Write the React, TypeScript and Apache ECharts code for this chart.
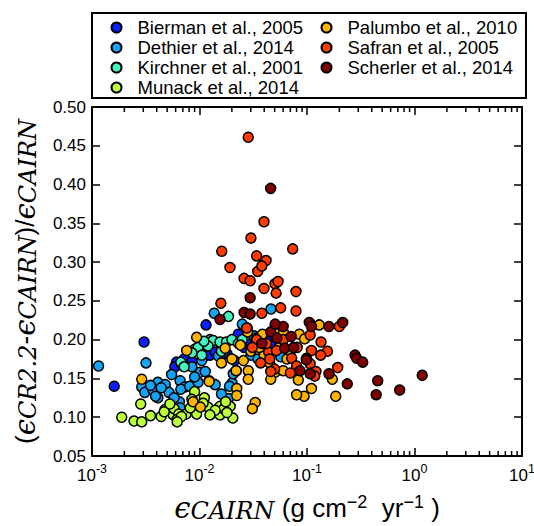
import React, { useEffect, useRef } from "react";
import * as echarts from "echarts";

const seriesNames = [
  "Bierman et al., 2005",
  "Dethier et al., 2014",
  "Kirchner et al., 2001",
  "Munack et al., 2014",
  "Palumbo et al., 2010",
  "Safran et al., 2005",
  "Scherler et al., 2014",
];
const seriesColors = ["#0a1eff", "#14a4f4", "#44f4c0", "#bcff3c", "#ffb400", "#ff3c00", "#800000"];

const bierman = [
  [0.00161, 0.14], [0.00305, 0.197], [0.0061, 0.171], [0.0059, 0.165], [0.0072, 0.175], [0.0108, 0.177],
  [0.0115, 0.186], [0.0115, 0.219], [0.0125, 0.18], [0.014, 0.184], [0.016, 0.19], [0.0212, 0.173],
  [0.0229, 0.207], [0.026, 0.19], [0.03, 0.195], [0.033, 0.2], [0.035, 0.192], [0.04, 0.186],
  [0.045, 0.205], [0.05, 0.195], [0.055, 0.185], [0.06, 0.19], [0.018, 0.182], [0.0085, 0.172], [0.0068, 0.168],
];
const dethier = [
  [0.00115, 0.166], [0.00318, 0.17], [0.0029, 0.139], [0.0031, 0.132], [0.0037, 0.135], [0.0041, 0.145],
  [0.0035, 0.141], [0.0048, 0.142], [0.0052, 0.132], [0.0041, 0.125], [0.0044, 0.138], [0.0066, 0.147],
  [0.0073, 0.139], [0.0067, 0.136], [0.0081, 0.14], [0.0097, 0.145], [0.0101, 0.158], [0.0113, 0.159],
  [0.0123, 0.147], [0.014, 0.142], [0.0065, 0.12], [0.0066, 0.112], [0.0105, 0.173], [0.0186, 0.124],
  [0.0201, 0.144], [0.0206, 0.156], [0.0137, 0.234], [0.0278, 0.215], [0.0462, 0.2395], [0.057, 0.178],
  [0.015, 0.179], [0.0055, 0.155], [0.0058, 0.125], [0.0085, 0.165], [0.009, 0.152], [0.0125, 0.2],
  [0.017, 0.185], [0.022, 0.16], [0.025, 0.22], [0.032, 0.205], [0.03, 0.18], [0.035, 0.175],
  [0.0039, 0.127], [0.016, 0.13], [0.019, 0.14],
];
const kirchner = [
  [0.0067, 0.171], [0.0091, 0.188], [0.0097, 0.19], [0.0134, 0.199], [0.0155, 0.197], [0.0178, 0.197],
  [0.0186, 0.23], [0.012, 0.192], [0.0105, 0.18], [0.0072, 0.165], [0.02, 0.2], [0.023, 0.195],
  [0.016, 0.185], [0.0085, 0.183], [0.025, 0.2], [0.011, 0.198],
];
const munack = [
  [0.00189, 0.1], [0.00246, 0.095], [0.0029, 0.094], [0.0035, 0.102], [0.0044, 0.101], [0.0048, 0.11],
  [0.0057, 0.103], [0.0058, 0.111], [0.0064, 0.104], [0.0062, 0.097], [0.0075, 0.104], [0.0094, 0.104],
  [0.009, 0.133], [0.0085, 0.123], [0.0111, 0.125], [0.0135, 0.107], [0.0155, 0.114], [0.0155, 0.103],
  [0.0169, 0.111], [0.0204, 0.099], [0.0193, 0.114], [0.00284, 0.117], [0.0047, 0.107], [0.0053, 0.117],
  [0.0068, 0.101], [0.0082, 0.112], [0.012, 0.113], [0.014, 0.109], [0.018, 0.106], [0.0175, 0.12],
  [0.0062, 0.094], [0.0108, 0.118], [0.0125, 0.103],
];
const palumbo = [
  [0.0029, 0.149], [0.0094, 0.203], [0.0076, 0.186], [0.0123, 0.146], [0.0087, 0.12], [0.0102, 0.113],
  [0.0219, 0.16], [0.0284, 0.16], [0.0284, 0.149], [0.0222, 0.137], [0.0222, 0.128], [0.033, 0.119],
  [0.0173, 0.189], [0.0256, 0.173], [0.024, 0.193], [0.034, 0.202], [0.0385, 0.207], [0.13, 0.219],
  [0.05, 0.209], [0.0605, 0.209], [0.085, 0.207], [0.095, 0.201], [0.172, 0.149], [0.0505, 0.158],
  [0.046, 0.149], [0.083, 0.148], [0.11, 0.137], [0.094, 0.127], [0.08, 0.129], [0.185, 0.127],
  [0.031, 0.111], [0.03, 0.185], [0.04, 0.18], [0.045, 0.17], [0.055, 0.19], [0.065, 0.175],
  [0.028, 0.21], [0.036, 0.19], [0.02, 0.175], [0.06, 0.16], [0.07, 0.185], [0.016, 0.17],
];
const safran = [
  [0.0284, 0.461], [0.0398, 0.352], [0.0301, 0.331], [0.0161, 0.314], [0.0736, 0.317], [0.0192, 0.293],
  [0.034, 0.308], [0.0416, 0.302], [0.0348, 0.288], [0.038, 0.295], [0.026, 0.279], [0.0296, 0.276],
  [0.0398, 0.266], [0.0504, 0.272], [0.0538, 0.275], [0.0516, 0.26], [0.079, 0.262], [0.0158, 0.247],
  [0.0569, 0.241], [0.079, 0.237], [0.038, 0.234], [0.2, 0.217], [0.107, 0.206], [0.135, 0.197],
  [0.081, 0.19], [0.044, 0.184], [0.052, 0.186], [0.11, 0.186], [0.155, 0.185], [0.134, 0.18],
  [0.072, 0.176], [0.08, 0.166], [0.107, 0.169], [0.109, 0.157], [0.121, 0.159], [0.118, 0.153],
  [0.193, 0.164], [0.05, 0.162], [0.07, 0.157], [0.046, 0.159], [0.0275, 0.215], [0.034, 0.2],
  [0.042, 0.195], [0.045, 0.175], [0.06, 0.2], [0.031, 0.19], [0.037, 0.17],
];
const scherler = [
  [0.0459, 0.395], [0.0296, 0.254], [0.026, 0.235], [0.0296, 0.233], [0.0155, 0.226], [0.105, 0.222],
  [0.11, 0.217], [0.16, 0.217], [0.215, 0.222], [0.046, 0.21], [0.06, 0.217], [0.0711, 0.204],
  [0.062, 0.189], [0.099, 0.176], [0.28, 0.18], [0.29, 0.176], [0.33, 0.171], [0.086, 0.16],
  [0.107, 0.156], [0.16, 0.156], [0.237, 0.143], [0.455, 0.147], [0.44, 0.129], [0.728, 0.135],
  [1.18, 0.154], [0.0505, 0.22], [0.0525, 0.202], [0.038, 0.195], [0.075, 0.19], [0.0985, 0.174],
];
const allSeries = [bierman, dethier, kirchner, munack, palumbo, safran, scherler];

const minorTickValues = [
  0.002, 0.003, 0.004, 0.005, 0.006, 0.007, 0.008, 0.009,
  0.02, 0.03, 0.04, 0.05, 0.06, 0.07, 0.08, 0.09,
  0.2, 0.3, 0.4, 0.5, 0.6, 0.7, 0.8, 0.9,
  2, 3, 4, 5, 6, 7, 8, 9,
];

const SANS = "'Liberation Sans', Arial, sans-serif";
const SERIF = "'DejaVu Serif', serif";

const mkLine = () => ({ show: true, onZero: false, lineStyle: { color: "#000000", width: 2, opacity: 1 } });
const mkTick = () => ({ show: true, inside: true, length: 8, lineStyle: { color: "#000000", width: 1.5, opacity: 1 } });

export default function App() {
  const ref = useRef<HTMLDivElement>(null);
  useEffect(() => {
    const chart = echarts.init(ref.current!, null, { renderer: "svg" });
    const nameRich = {
      p: { fontFamily: SANS, fontSize: 26, color: "#000", lineHeight: 30 },
      e: { fontFamily: SERIF, fontStyle: "italic", fontSize: 29, color: "#000", lineHeight: 30 },
      s: { fontFamily: SERIF, fontStyle: "italic", fontSize: 24, color: "#000", lineHeight: 18, verticalAlign: "bottom" },
      u: { fontFamily: SANS, fontSize: 18, color: "#000", lineHeight: 14, verticalAlign: "top" },
    };
    const legendBase = {
      orient: "vertical",
      icon: "circle",
      itemWidth: 10,
      itemHeight: 10,
      itemGap: 1,
      padding: 0,
      selectedMode: false,
      textStyle: { fontFamily: SANS, fontSize: 18.5, color: "#000", lineHeight: 18, padding: [0, 0, 0, 11] },
    };
    chart.setOption({
      animation: false,
      backgroundColor: "#fff",
      grid: { left: 92, right: 12, top: 107, bottom: 70, containLabel: false, outerBoundsMode: "none" },
      graphic: [
        {
          type: "rect",
          shape: { x: 92, y: 13, width: 434, height: 85 },
          style: { fill: "none", stroke: "#000", lineWidth: 2 },
          z: 10,
        },
      ],
      legend: [
        { ...legendBase, data: seriesNames.slice(0, 4), left: 110.5, top: 18 },
        { ...legendBase, data: seriesNames.slice(4), left: 320.5, top: 18 },
      ],
      xAxis: [
        {
          type: "log",
          logBase: 10,
          min: 0.001,
          max: 10,
          position: "bottom",
          axisLine: mkLine(),
          axisTick: mkTick(),
          splitLine: { show: false },
          axisLabel: {
            margin: 6,
            formatter: (v: number) => `{b|10}{s|${Math.round(Math.log10(v))}}`,
            rich: {
              b: { fontFamily: SANS, fontSize: 17, color: "#000", lineHeight: 22, verticalAlign: "bottom" },
              s: { fontFamily: SANS, fontSize: 12.5, color: "#000", lineHeight: 14, verticalAlign: "top" },
            },
          },
          name: "{e|ϵ}{s|CAIRN}{p| (g cm}{u|−2}{p|  yr}{u|−1}{p| )}",
          nameLocation: "middle",
          nameGap: 37,
          nameTextStyle: { rich: nameRich },
        },
        {
          type: "log",
          logBase: 10,
          min: 0.001,
          max: 10,
          position: "top",
          axisLine: mkLine(),
          axisTick: mkTick(),
          axisLabel: { show: false },
          splitLine: { show: false },
        },
      ],
      yAxis: [
        {
          type: "value",
          min: 0.05,
          max: 0.5,
          interval: 0.05,
          position: "left",
          axisLine: mkLine(),
          axisTick: mkTick(),
          splitLine: { show: false },
          axisLabel: {
            margin: 6,
            formatter: (v: number) => v.toFixed(2),
            fontFamily: SANS,
            fontSize: 17,
            color: "#000",
          },
          name: "{p|(}{e|ϵ}{s|CR2.2}{p|-}{e|ϵ}{s|CAIRN}{p|)/}{e|ϵ}{s|CAIRN}",
          nameLocation: "middle",
          nameGap: 52,
          nameTextStyle: { rich: nameRich },
        },
        {
          type: "value",
          min: 0.05,
          max: 0.5,
          interval: 0.05,
          position: "right",
          axisLine: mkLine(),
          axisTick: mkTick(),
          axisLabel: { show: false },
          splitLine: { show: false },
        },
      ],
      series: [
        ...allSeries.map((d, i) => ({
          name: seriesNames[i],
          type: "scatter",
          data: d,
          symbol: "circle",
          symbolSize: 10,
          itemStyle: { color: seriesColors[i], borderColor: "#000", borderWidth: 1.5, opacity: 1 },
          emphasis: { disabled: true },
        })),
        {
          type: "custom",
          name: "minorTicks",
          silent: true,
          data: minorTickValues.map((v) => [v, 0.1]),
          renderItem: (params: any, api: any) => {
            const x = api.coord([api.value(0), 0.1])[0];
            const cs = params.coordSys;
            const yb = cs.y + cs.height;
            return {
              type: "group",
              children: [
                { type: "line", shape: { x1: x, y1: yb, x2: x, y2: yb - 5 }, style: { stroke: "#000", lineWidth: 1.5 } },
                { type: "line", shape: { x1: x, y1: cs.y, x2: x, y2: cs.y + 5 }, style: { stroke: "#000", lineWidth: 1.5 } },
              ],
            };
          },
        },
      ],
    });
    return () => chart.dispose();
  }, []);
  return (
    <div
      ref={ref}
      style={{ position: "fixed", left: 0, top: 0, width: 534, height: 526, background: "#fff" }}
    />
  );
}
